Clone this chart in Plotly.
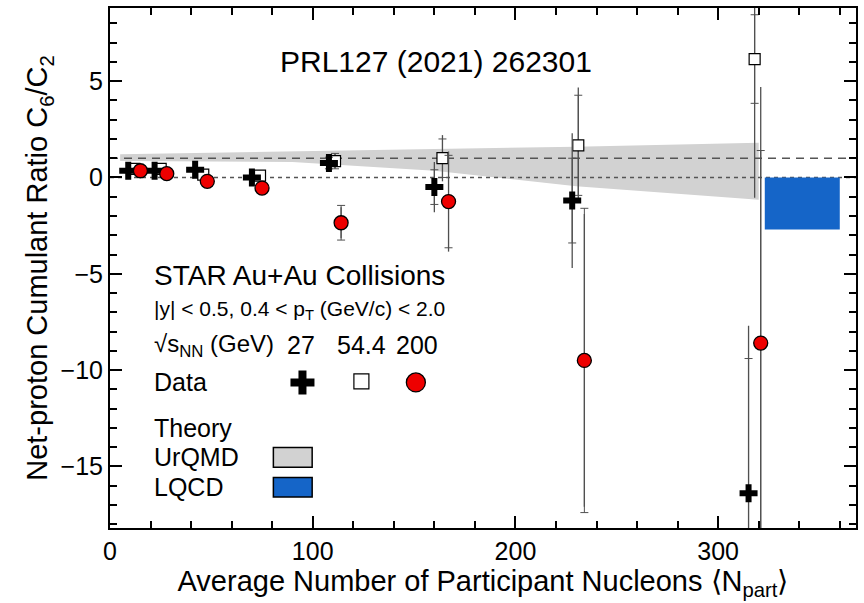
import plotly.graph_objects as go

# ---------------- data ----------------
N27 = [9, 22, 42, 70, 108, 160, 228, 315]
C27 = [0.35, 0.35, 0.4, 0.0, 0.75, -0.5, -1.2, -16.4]
stat27 = [0.15, 0.15, 0.2, 0.2, 0.4, 1.3, 3.5, 8.7]
sys27 = [0.1, 0.1, 0.1, 0.1, 0.3, 0.9, 2.2, 7.0]

N54 = [12, 25, 46, 74, 111, 164, 231, 318]
C54 = [0.45, 0.45, 0.15, 0.1, 0.85, 1.0, 1.67, 6.15]
stat54 = [0.2, 0.2, 0.25, 0.25, 0.4, 1.2, 3.0, 7.2]
sys54 = [0.15, 0.15, 0.15, 0.2, 0.4, 1.0, 2.6, 2.3]

N200 = [15, 28, 48, 75, 114, 167, 234, 321]
C200 = [0.35, 0.2, -0.2, -0.55, -2.35, -1.25, -9.5, -8.6]
stat200 = [0.15, 0.15, 0.15, 0.2, 0.8, 2.6, 7.6, 13.3]
sys200 = [0.1, 0.1, 0.1, 0.15, 0.9, 2.4, 7.9, 10.0]

urqmd_N = [5, 90, 160, 230, 320]
urqmd_hi = [1.2, 1.35, 1.45, 1.6, 1.8]
urqmd_lo = [0.85, 0.8, 0.35, -0.45, -1.15]

lqcd_N = [323, 360]
lqcd_val = -2.7

x_range = [0, 368]
y_range = [-18.2, 8.8]

FONT = "Liberation Sans, Arial, Helvetica, sans-serif"
ERRC = "#505050"

fig = go.Figure()

# UrQMD band
fig.add_trace(go.Scatter(
    x=urqmd_N + urqmd_N[::-1], y=urqmd_hi + urqmd_lo[::-1],
    fill="toself", fillcolor="#d2d2d2", line=dict(width=0),
    mode="lines", hoverinfo="skip", showlegend=False))

# reference lines
fig.add_trace(go.Scatter(x=x_range, y=[1, 1], mode="lines",
                         line=dict(color="#555555", width=1.5, dash="8px,6px"),
                         showlegend=False, hoverinfo="skip"))
fig.add_trace(go.Scatter(x=x_range, y=[0, 0], mode="lines",
                         line=dict(color="#555555", width=1.5, dash="4px,4px"),
                         showlegend=False, hoverinfo="skip"))

# LQCD box
fig.add_trace(go.Scatter(
    x=[lqcd_N[0], lqcd_N[1], lqcd_N[1], lqcd_N[0], lqcd_N[0]],
    y=[0, 0, lqcd_val, lqcd_val, 0],
    fill="toself", fillcolor="#1565c8", line=dict(width=0, color="#1565c8"),
    mode="lines", hoverinfo="skip", showlegend=False))


def add_series(N, C, stat, sys, marker):
    # statistical error (no caps)
    fig.add_trace(go.Scatter(
        x=N, y=C, mode="markers", marker=dict(size=1, opacity=0),
        error_y=dict(type="data", array=stat, color=ERRC, thickness=1.3, width=0),
        showlegend=False, hoverinfo="skip"))
    # systematic error (caps)
    fig.add_trace(go.Scatter(
        x=N, y=C, mode="markers", marker=dict(size=1, opacity=0),
        error_y=dict(type="data", array=sys, color=ERRC, thickness=1.0, width=4),
        showlegend=False, hoverinfo="skip"))
    fig.add_trace(go.Scatter(x=N, y=C, mode="markers", marker=marker,
                             showlegend=False))


add_series(N54, C54, stat54, sys54,
           dict(symbol="square", size=11, color="white",
                line=dict(color="black", width=1.2)))
add_series(N27, C27, stat27, sys27,
           dict(symbol="cross", size=15, color="black",
                line=dict(color="black", width=0)))
add_series(N200, C200, stat200, sys200,
           dict(symbol="circle", size=14, color="#ee0000",
                line=dict(color="black", width=1.3)))

# legend markers on an overlay axis in [0,1]
fig.add_trace(go.Scatter(x=[0.258], y=[0.280], mode="markers", xaxis="x2", yaxis="y2",
                         marker=dict(symbol="cross", size=20, color="black"),
                         showlegend=False, hoverinfo="skip"))
fig.add_trace(go.Scatter(x=[0.337], y=[0.282], mode="markers", xaxis="x2", yaxis="y2",
                         marker=dict(symbol="square", size=15, color="white",
                                     line=dict(color="black", width=1.2)),
                         showlegend=False, hoverinfo="skip"))
fig.add_trace(go.Scatter(x=[0.410], y=[0.280], mode="markers", xaxis="x2", yaxis="y2",
                         marker=dict(symbol="circle", size=19, color="#ee0000",
                                     line=dict(color="black", width=1.3)),
                         showlegend=False, hoverinfo="skip"))

ann = []


def txt(x, y, s, size, xanchor="left"):
    ann.append(dict(x=x, y=y, xref="paper", yref="paper", text=s, showarrow=False,
                    xanchor=xanchor, yanchor="middle",
                    font=dict(family=FONT, size=size, color="black")))


txt(0.437, 0.898, "PRL127 (2021) 262301", 30, "center")
txt(0.056, 0.4856, "STAR Au+Au Collisions", 28)
txt(0.056, 0.4184, "|y| < 0.5, 0.4 < p<sub>T</sub> (GeV/c) < 2.0", 21)
txt(0.056, 0.3512, "√s<sub>NN</sub> (GeV)", 24)
txt(0.2567, 0.3512, "27", 25, "center")
txt(0.3369, 0.3512, "54.4", 25, "center")
txt(0.4118, 0.3512, "200", 25, "center")
txt(0.056, 0.2802, "Data", 25)
txt(0.056, 0.1919, "Theory", 25)
txt(0.056, 0.1363, "UrQMD", 25)
txt(0.056, 0.0787, "LQCD", 25)

shapes = [
    dict(type="rect", xref="paper", yref="paper", x0=0.219, x1=0.271, y0=0.117, y1=0.155,
         fillcolor="#d2d2d2", line=dict(color="black", width=1.5)),
    dict(type="rect", xref="paper", yref="paper", x0=0.219, x1=0.271, y0=0.0595, y1=0.097,
         fillcolor="#1565c8", line=dict(color="black", width=1.5)),
]

axis_common = dict(
    showline=True, linewidth=2, linecolor="black", mirror="allticks",
    ticks="inside", ticklen=12, tickwidth=2, tickcolor="black",
    showgrid=False, zeroline=False,
    tickfont=dict(family=FONT, size=25, color="black"),
)

fig.update_layout(
    width=864, height=603,
    margin=dict(l=110, r=6, t=7, b=75),
    paper_bgcolor="white", plot_bgcolor="white",
    font=dict(family=FONT, color="black"),
    xaxis=dict(range=x_range, dtick=100, tick0=0,
               minor=dict(dtick=20, ticklen=7, tickwidth=1.5, ticks="inside", tickcolor="black"),
               title=dict(text="Average Number of Participant Nucleons ⟨N<sub>part</sub>⟩",
                          font=dict(family=FONT, size=29), standoff=2),
               **axis_common),
    yaxis=dict(range=y_range, dtick=5, tick0=0,
               minor=dict(dtick=1, ticklen=7, tickwidth=1.5, ticks="inside", tickcolor="black"),
               title=dict(text="Net-proton Cumulant Ratio C<sub>6</sub>/C<sub>2</sub>",
                          font=dict(family=FONT, size=29), standoff=4),
               **axis_common),
    xaxis2=dict(range=[0, 1], overlaying="x", visible=False, fixedrange=True),
    yaxis2=dict(range=[0, 1], overlaying="y", visible=False, fixedrange=True),
    annotations=ann, shapes=shapes,
)

fig.write_html("out.html")
